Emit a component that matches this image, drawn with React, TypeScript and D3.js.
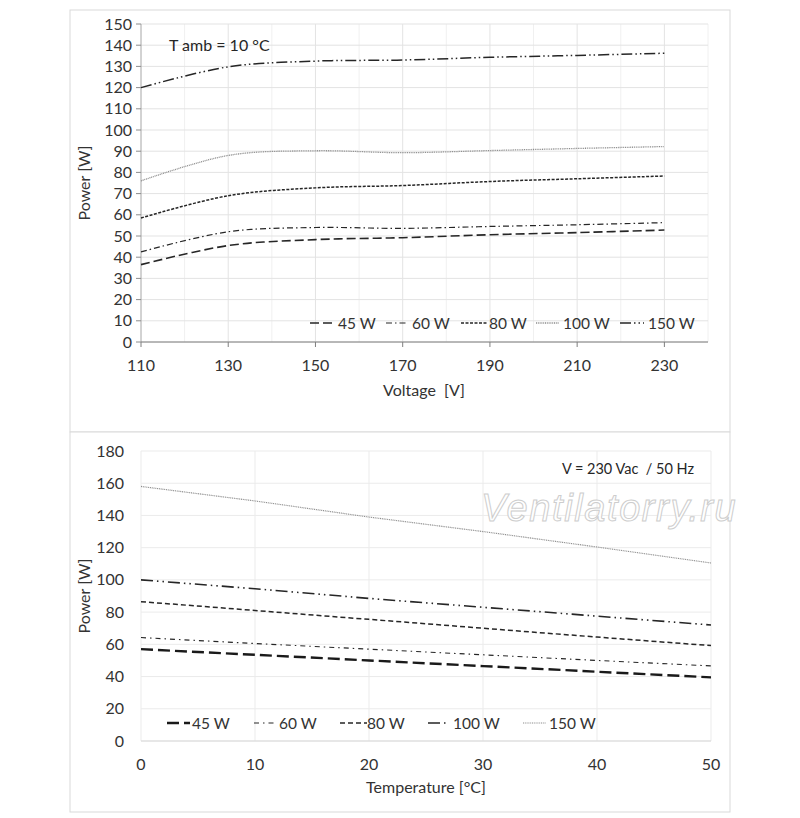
import React from 'react';
import * as d3 from 'd3';

// top chart: power vs supply voltage at T amb = 10 °C
const voltages = [110, 130, 150, 170, 190, 210, 230];
const volt45 = [36.5, 45.5, 48.3, 49.2, 50.6, 51.6, 52.8];
const volt60 = [42.5, 52, 54, 53.6, 54.5, 55.3, 56.3];
const volt80 = [58.5, 69, 72.7, 73.8, 75.7, 77, 78.3];
const volt100 = [76, 88, 90.2, 89.3, 90.3, 91.3, 92.2];
const volt150 = [120, 129.8, 132.5, 133, 134.3, 135.2, 136.2];
const voltTicks = [110, 130, 150, 170, 190, 210, 230];
const topPowerTicks = d3.range(0, 151, 10);

// bottom chart: power vs ambient temperature at 230 Vac
const temps = [0, 10, 20, 30, 40, 50];
const temp45 = [57, 53.5, 50, 46.5, 43, 39.5];
const temp60 = [64.2, 60.5, 57, 53.5, 50, 46.6];
const temp80 = [86.5, 81, 75.5, 70, 64.5, 59.2];
const temp100 = [100, 94.5, 88.5, 83, 77.5, 72];
const temp150 = [158, 149, 139, 130, 120.4, 110.5];
const tempTicks = [0, 10, 20, 30, 40, 50];
const botPowerTicks = d3.range(0, 181, 20);

const labels = ['45 W', '60 W', '80 W', '100 W', '150 W'];

const FONT = 'Lato, "Open Sans", sans-serif';
const TXT = '#333';

type Style = { dash: string; width: number; color: string };

const topStyles: Style[] = [
  { dash: '9,4', width: 1.6, color: '#262626' },
  { dash: '6,3,1.5,3', width: 1.2, color: '#262626' },
  { dash: '3,1.5', width: 1.5, color: '#262626' },
  { dash: '1,0.8', width: 1.3, color: '#8c8c8c' },
  { dash: '11,3,1.5,3,1.5,3', width: 1.5, color: '#262626' },
];

const botStyles: Style[] = [
  { dash: '12,5', width: 2.4, color: '#1a1a1a' },
  { dash: '5,4,1.5,4', width: 1.1, color: '#262626' },
  { dash: '5,3', width: 1.5, color: '#262626' },
  { dash: '12,4,1.5,4,1.5,4', width: 1.6, color: '#262626' },
  { dash: '1,0.8', width: 1.2, color: '#8c8c8c' },
];

function TopChart() {
  const x = d3.scaleLinear().domain([110, 240]).range([141, 708]);
  const y = d3.scaleLinear().domain([0, 150]).range([342, 24]);
  const series = [volt45, volt60, volt80, volt100, volt150];
  const line = d3
    .line<number>()
    .x((_, i) => x(voltages[i]))
    .y(d => y(d))
    .curve(d3.curveCatmullRom.alpha(0.5));
  const minor = d3.range(120, 241, 10);
  const legendLine = [[310, 336], [386, 408], [461, 487], [536, 559], [620, 644]];
  const legendText = [338, 412, 489, 563, 648];

  return (
    <g>
      <rect x={70} y={10} width={660} height={422} fill="#fff" stroke="#d9d9d9" />
      {minor.map(v => (
        <line key={'vg' + v} x1={x(v)} x2={x(v)} y1={y(150)} y2={y(0)} stroke={(v - 110) % 20 === 0 ? '#e3e3e3' : '#f0f0f0'} />
      ))}
      {topPowerTicks.map(v => (
        <line key={'hg' + v} x1={x(110)} x2={x(240)} y1={y(v)} y2={y(v)} stroke="#e3e3e3" />
      ))}
      <line x1={x(110)} x2={x(110)} y1={y(150)} y2={y(0)} stroke="#a6a6a6" />
      <line x1={x(110)} x2={x(240)} y1={y(0)} y2={y(0)} stroke="#7f7f7f" />
      {topPowerTicks.map(v => (
        <g key={'yt' + v}>
          <line x1={x(110) - 5} x2={x(110)} y1={y(v)} y2={y(v)} stroke="#8c8c8c" />
          <text x={x(110) - 9} y={y(v) + 5.5} textAnchor="end" fontSize={16} fill={TXT} fontFamily={FONT}>{v}</text>
        </g>
      ))}
      {voltTicks.map(v => (
        <g key={'xt' + v}>
          <line x1={x(v)} x2={x(v)} y1={y(0)} y2={y(0) + 5} stroke="#7f7f7f" />
          <text x={x(v)} y={y(0) + 29} textAnchor="middle" fontSize={16} fill={TXT} fontFamily={FONT}>{v}</text>
        </g>
      ))}
      {series.map((s, i) => (
        <path key={'s' + i} d={line(s) ?? ''} fill="none" stroke={topStyles[i].color}
          strokeWidth={topStyles[i].width} strokeDasharray={topStyles[i].dash} />
      ))}
      {labels.map((l, i) => (
        <g key={'lg' + i}>
          <line x1={legendLine[i][0]} x2={legendLine[i][1]} y1={323} y2={323} stroke={topStyles[i].color}
            strokeWidth={topStyles[i].width} strokeDasharray={topStyles[i].dash} />
          <text x={legendText[i]} y={329} fontSize={15.5} fill={TXT} fontFamily={FONT}>{l}</text>
        </g>
      ))}
      <text x={169} y={51} fontSize={16} fill="#262626" fontFamily={FONT}>T amb = 10 °C</text>
      <text x={424} y={396} textAnchor="middle" fontSize={16} fill={TXT} fontFamily={FONT} style={{ whiteSpace: 'pre' }}>Voltage  [V]</text>
      <text transform={`translate(90,${y(75)}) rotate(-90)`} textAnchor="middle" fontSize={16} fill={TXT} fontFamily={FONT}>Power [W]</text>
    </g>
  );
}

function BottomChart() {
  const x = d3.scaleLinear().domain([0, 50]).range([141, 711]);
  const y = d3.scaleLinear().domain([0, 180]).range([741, 451]);
  const series = [temp45, temp60, temp80, temp100, temp150];
  const line = d3
    .line<number>()
    .x((_, i) => x(temps[i]))
    .y(d => y(d));
  const legendLine = [[167, 190], [254, 274], [340, 367], [428, 449], [523, 546]];
  const legendText = [192, 279, 367, 453, 549];

  return (
    <g>
      <rect x={70} y={432} width={660} height={380} fill="#fff" stroke="#d9d9d9" />
      {tempTicks.map(v => (
        <line key={'vg' + v} x1={x(v)} x2={x(v)} y1={y(180)} y2={y(0)} stroke="#ebebeb" />
      ))}
      {botPowerTicks.map(v => (
        <line key={'hg' + v} x1={x(0)} x2={x(50)} y1={y(v)} y2={y(v)} stroke="#ebebeb" />
      ))}
      <line x1={x(0)} x2={x(50)} y1={y(0)} y2={y(0)} stroke="#d9d9d9" />
      {botPowerTicks.map(v => (
        <text key={'yt' + v} x={x(0) - 17} y={y(v) + 5.5} textAnchor="end" fontSize={16} fill={TXT} fontFamily={FONT}>{v}</text>
      ))}
      {tempTicks.map(v => (
        <text key={'xt' + v} x={x(v)} y={y(0) + 29} textAnchor="middle" fontSize={16} fill={TXT} fontFamily={FONT}>{v}</text>
      ))}
      <text x={481} y={521} fontSize={38} fontStyle="italic" letterSpacing={1.6}
        fontFamily='"Liberation Sans", Arial, sans-serif'
        fill="#fff" stroke="#cdcdcd" strokeWidth={1}>Ventilatorry.ru</text>
      {series.map((s, i) => (
        <path key={'s' + i} d={line(s) ?? ''} fill="none" stroke={botStyles[i].color}
          strokeWidth={botStyles[i].width} strokeDasharray={botStyles[i].dash} />
      ))}
      {labels.map((l, i) => (
        <g key={'lg' + i}>
          <line x1={legendLine[i][0]} x2={legendLine[i][1]} y1={723} y2={723} stroke={botStyles[i].color}
            strokeWidth={botStyles[i].width} strokeDasharray={botStyles[i].dash} />
          <text x={legendText[i]} y={729} fontSize={15.5} fill={TXT} fontFamily={FONT}>{l}</text>
        </g>
      ))}
      <text x={694} y={474} textAnchor="end" fontSize={14.5} fill="#262626" fontFamily={FONT} style={{ whiteSpace: 'pre' }}>V = 230 Vac  / 50 Hz</text>
      <text x={426} y={793} textAnchor="middle" fontSize={16} fill={TXT} fontFamily={FONT}>Temperature [°C]</text>
      <text transform={`translate(90,${y(90)}) rotate(-90)`} textAnchor="middle" fontSize={16} fill={TXT} fontFamily={FONT}>Power [W]</text>
    </g>
  );
}

export default function App() {
  return (
    <svg width={800} height={818} style={{ position: 'absolute', left: 0, top: 0, background: '#fff' }}>
      <rect width={800} height={818} fill="#fff" />
      <TopChart />
      <BottomChart />
    </svg>
  );
}
